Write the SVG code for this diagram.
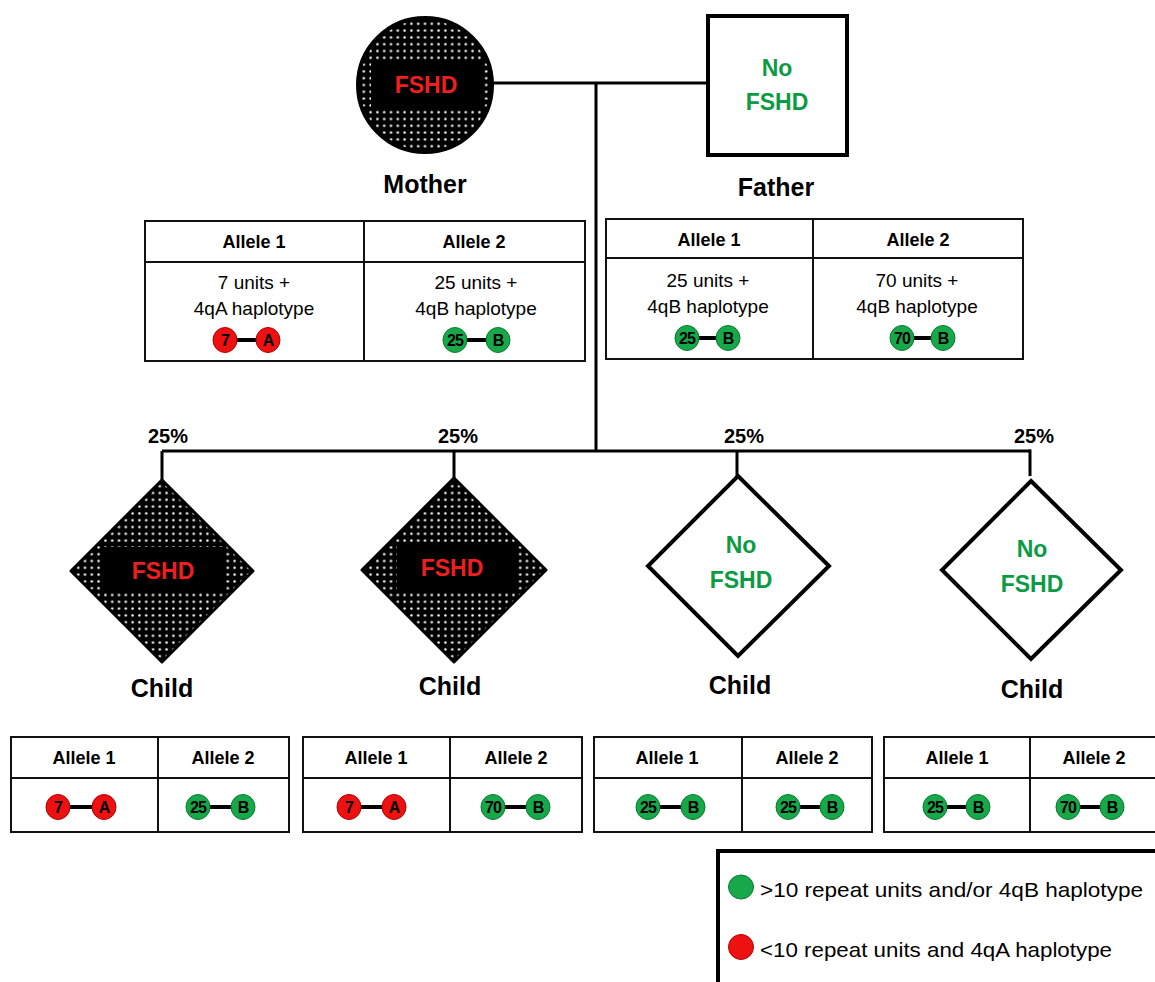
<svg xmlns="http://www.w3.org/2000/svg" width="1155" height="982" viewBox="0 0 1155 982">
<style>
text{font-family:"Liberation Sans",Arial,sans-serif;fill:#000}
.b{font-weight:bold}
.lbl{font-size:25px;font-weight:bold;text-anchor:middle}
.pct{font-size:20px;font-weight:bold;text-anchor:middle}
.red{fill:#f01e1e;font-weight:bold;font-size:23px;text-anchor:middle}
.grn{fill:#0c9b45;font-weight:bold;font-size:23px;text-anchor:middle}
.hdr{font-size:18px;font-weight:bold;text-anchor:middle}
.body{font-size:19px;text-anchor:middle}
.sym{font-size:16px;font-weight:bold;text-anchor:middle;letter-spacing:-1px}
.leg{font-size:21px}
.tb{fill:#fff;stroke:#111;stroke-width:2}
.tl{stroke:#111;stroke-width:2}
.con{stroke:#000;stroke-width:3;fill:none}
.r{fill:#ee1111;stroke:#b00000;stroke-width:1}
.g{fill:#17a84a;stroke:#0b7a30;stroke-width:1}
.bar{stroke:#000;stroke-width:4}
</style>
<defs>
<pattern id="dots" width="6.8" height="6.8" patternUnits="userSpaceOnUse">
<rect width="6.8" height="6.8" fill="#000"/>
<circle cx="3.4" cy="3.4" r="1.25" fill="#fff"/>
</pattern>
</defs>

<g id="connectors">
<line class="con" x1="490" y1="83" x2="708" y2="83"/>
<line class="con" x1="596" y1="83" x2="596" y2="451"/>
<line class="con" x1="162" y1="451" x2="1031" y2="451"/>
<line class="con" x1="162" y1="451" x2="162" y2="481"/>
<line class="con" x1="454" y1="451" x2="454" y2="479"/>
<line class="con" x1="737" y1="451" x2="737" y2="476"/>
<line class="con" x1="1030" y1="449.5" x2="1030" y2="476"/>
</g>

<g id="mother">
<circle cx="425" cy="85" r="67" fill="url(#dots)" stroke="#000" stroke-width="4"/>
<rect x="371" y="60" width="112" height="50" fill="#000"/>
<text class="red" x="426" y="93">FSHD</text>
<text class="lbl" x="425" y="193">Mother</text>
</g>

<g id="father">
<rect x="708" y="16" width="139" height="139" fill="#fff" stroke="#000" stroke-width="4"/>
<text class="grn" x="777" y="76">No</text>
<text class="grn" x="777" y="110">FSHD</text>
<text class="lbl" x="776" y="196">Father</text>
</g>

<g id="mother-table">
<rect class="tb" x="145" y="221" width="440" height="140"/>
<line class="tl" x1="145" y1="262" x2="585" y2="262"/>
<line class="tl" x1="364" y1="221" x2="364" y2="361"/>
<text class="hdr" x="254" y="248">Allele 1</text>
<text class="hdr" x="474" y="248">Allele 2</text>
<text class="body" x="254" y="289">7 units +</text>
<text class="body" x="254" y="315">4qA haplotype</text>
<text class="body" x="476" y="289">25 units +</text>
<text class="body" x="476" y="315">4qB haplotype</text>
<line class="bar" x1="236" y1="340" x2="257" y2="340"/>
<ellipse class="r" cx="225" cy="340" rx="12" ry="12.5"/><text class="sym" x="225" y="346">7</text>
<ellipse class="r" cx="268" cy="340" rx="12" ry="12.5"/><text class="sym" x="268" y="346">A</text>
<line class="bar" x1="466" y1="340" x2="487" y2="340"/>
<ellipse class="g" cx="455" cy="340" rx="12" ry="12.5"/><text class="sym" x="455" y="346">25</text>
<ellipse class="g" cx="498" cy="340" rx="12" ry="12.5"/><text class="sym" x="498" y="346">B</text>
</g>

<g id="father-table">
<rect class="tb" x="606" y="219" width="417" height="140"/>
<line class="tl" x1="606" y1="258" x2="1023" y2="258"/>
<line class="tl" x1="813" y1="219" x2="813" y2="359"/>
<text class="hdr" x="709" y="246">Allele 1</text>
<text class="hdr" x="918" y="246">Allele 2</text>
<text class="body" x="708" y="287">25 units +</text>
<text class="body" x="708" y="313">4qB haplotype</text>
<text class="body" x="917" y="287">70 units +</text>
<text class="body" x="917" y="313">4qB haplotype</text>
<line class="bar" x1="698" y1="338" x2="717" y2="338"/>
<ellipse class="g" cx="687" cy="338" rx="12" ry="12.5"/><text class="sym" x="687" y="344">25</text>
<ellipse class="g" cx="728" cy="338" rx="12" ry="12.5"/><text class="sym" x="728" y="344">B</text>
<line class="bar" x1="913" y1="338" x2="932" y2="338"/>
<ellipse class="g" cx="902" cy="338" rx="12" ry="12.5"/><text class="sym" x="902" y="344">70</text>
<ellipse class="g" cx="943" cy="338" rx="12" ry="12.5"/><text class="sym" x="943" y="344">B</text>
</g>

<g id="pct-labels">
<text class="pct" x="168" y="443">25%</text>
<text class="pct" x="458" y="443">25%</text>
<text class="pct" x="744" y="443">25%</text>
<text class="pct" x="1034" y="443">25%</text>
</g>

<g id="child1">
<polygon points="162,480 253,571 162,662 71,571" fill="url(#dots)" stroke="#000" stroke-width="3" stroke-linejoin="round"/>
<rect x="103" y="547" width="120" height="46" fill="#000"/>
<text class="red" x="163" y="579">FSHD</text>
<text class="lbl" x="162" y="697">Child</text>
</g>

<g id="child2">
<polygon points="454,478 546,570 454,662 362,570" fill="url(#dots)" stroke="#000" stroke-width="3" stroke-linejoin="round"/>
<rect x="397" y="546" width="118" height="46" fill="#000"/>
<text class="red" x="452" y="576">FSHD</text>
<text class="lbl" x="450" y="695">Child</text>
</g>

<g id="child3">
<polygon points="738,476 829,566 738,656 648,566" fill="#fff" stroke="#000" stroke-width="4" stroke-linejoin="miter"/>
<text class="grn" x="741" y="553">No</text>
<text class="grn" x="741" y="588">FSHD</text>
<text class="lbl" x="740" y="694">Child</text>
</g>

<g id="child4">
<polygon points="1031,481 1121,570 1031,659 942,570" fill="#fff" stroke="#000" stroke-width="4" stroke-linejoin="miter"/>
<text class="grn" x="1032" y="557">No</text>
<text class="grn" x="1032" y="592">FSHD</text>
<text class="lbl" x="1032" y="698">Child</text>
</g>

<g id="child1-table">
<rect class="tb" x="11" y="737" width="278" height="95"/>
<line class="tl" x1="11" y1="778" x2="289" y2="778"/>
<line class="tl" x1="158" y1="737" x2="158" y2="832"/>
<text class="hdr" x="84" y="764">Allele 1</text>
<text class="hdr" x="223" y="764">Allele 2</text>
<line class="bar" x1="69" y1="807" x2="93" y2="807"/>
<ellipse class="r" cx="58" cy="807" rx="12" ry="12.5"/><text class="sym" x="58" y="813">7</text>
<ellipse class="r" cx="104" cy="807" rx="12" ry="12.5"/><text class="sym" x="104" y="813">A</text>
<line class="bar" x1="209" y1="807" x2="232" y2="807"/>
<ellipse class="g" cx="198" cy="807" rx="12" ry="12.5"/><text class="sym" x="198" y="813">25</text>
<ellipse class="g" cx="243" cy="807" rx="12" ry="12.5"/><text class="sym" x="243" y="813">B</text>
</g>

<g id="child2-table">
<rect class="tb" x="303" y="737" width="279" height="95"/>
<line class="tl" x1="303" y1="778" x2="582" y2="778"/>
<line class="tl" x1="450" y1="737" x2="450" y2="832"/>
<text class="hdr" x="376" y="764">Allele 1</text>
<text class="hdr" x="516" y="764">Allele 2</text>
<line class="bar" x1="359" y1="807" x2="383" y2="807"/>
<ellipse class="r" cx="349" cy="807" rx="12" ry="12.5"/><text class="sym" x="349" y="813">7</text>
<ellipse class="r" cx="394" cy="807" rx="12" ry="12.5"/><text class="sym" x="394" y="813">A</text>
<line class="bar" x1="504" y1="807" x2="527" y2="807"/>
<ellipse class="g" cx="493" cy="807" rx="12" ry="12.5"/><text class="sym" x="493" y="813">70</text>
<ellipse class="g" cx="538" cy="807" rx="12" ry="12.5"/><text class="sym" x="538" y="813">B</text>
</g>

<g id="child3-table">
<rect class="tb" x="594" y="737" width="278" height="95"/>
<line class="tl" x1="594" y1="778" x2="872" y2="778"/>
<line class="tl" x1="742" y1="737" x2="742" y2="832"/>
<text class="hdr" x="667" y="764">Allele 1</text>
<text class="hdr" x="807" y="764">Allele 2</text>
<line class="bar" x1="659" y1="807" x2="682" y2="807"/>
<ellipse class="g" cx="648" cy="807" rx="12" ry="12.5"/><text class="sym" x="648" y="813">25</text>
<ellipse class="g" cx="693" cy="807" rx="12" ry="12.5"/><text class="sym" x="693" y="813">B</text>
<line class="bar" x1="799" y1="807" x2="821" y2="807"/>
<ellipse class="g" cx="788" cy="807" rx="12" ry="12.5"/><text class="sym" x="788" y="813">25</text>
<ellipse class="g" cx="832" cy="807" rx="12" ry="12.5"/><text class="sym" x="832" y="813">B</text>
</g>

<g id="child4-table">
<rect class="tb" x="884" y="737" width="290" height="95"/>
<line class="tl" x1="884" y1="778" x2="1160" y2="778"/>
<line class="tl" x1="1030" y1="737" x2="1030" y2="832"/>
<text class="hdr" x="957" y="764">Allele 1</text>
<text class="hdr" x="1094" y="764">Allele 2</text>
<line class="bar" x1="946" y1="807" x2="967" y2="807"/>
<ellipse class="g" cx="935" cy="807" rx="12" ry="12.5"/><text class="sym" x="935" y="813">25</text>
<ellipse class="g" cx="978" cy="807" rx="12" ry="12.5"/><text class="sym" x="978" y="813">B</text>
<line class="bar" x1="1079" y1="807" x2="1101" y2="807"/>
<ellipse class="g" cx="1068" cy="807" rx="12" ry="12.5"/><text class="sym" x="1068" y="813">70</text>
<ellipse class="g" cx="1112" cy="807" rx="12" ry="12.5"/><text class="sym" x="1112" y="813">B</text>
</g>

<g id="legend">
<rect x="718" y="851" width="460" height="150" fill="#fff" stroke="#000" stroke-width="4"/>
<ellipse cx="741" cy="887" rx="12.5" ry="12" fill="#17a84a" stroke="#0b7a30" stroke-width="1"/>
<text class="leg" x="760" y="897" textLength="383" lengthAdjust="spacingAndGlyphs">&gt;10 repeat units and/or 4qB haplotype</text>
<ellipse cx="741" cy="947" rx="12.5" ry="12.5" fill="#ee1111" stroke="#b00000" stroke-width="1"/>
<text class="leg" x="760" y="957" textLength="352" lengthAdjust="spacingAndGlyphs">&lt;10 repeat units and 4qA haplotype</text>
</g>
</svg>
